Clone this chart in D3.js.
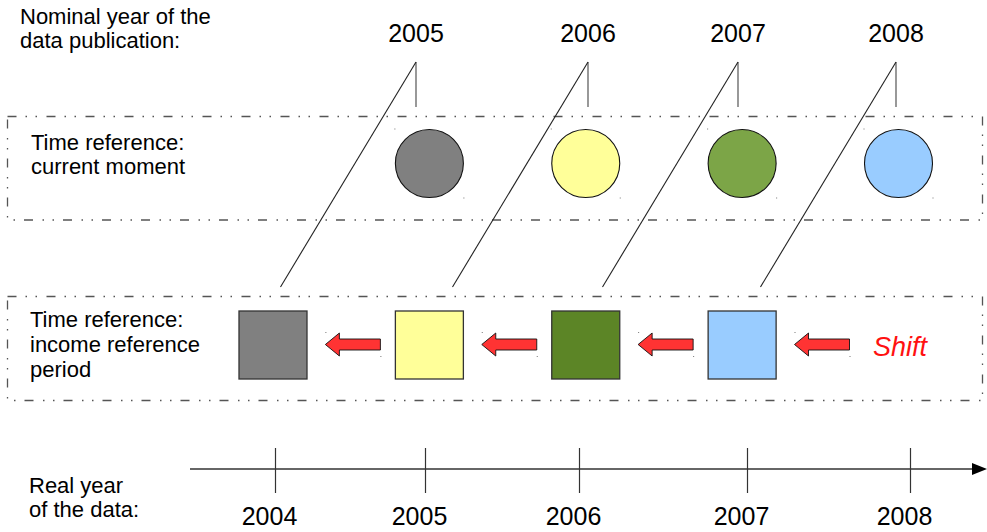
<!DOCTYPE html>
<html><head><meta charset="utf-8">
<script src="https://cdn.jsdelivr.net/npm/d3@7"></script>
<style>body{margin:0;background:#fff;overflow:hidden} text{font-family:"Liberation Sans",Arial,sans-serif}</style>
</head><body><svg id="c" width="987" height="532"></svg>
<script>
// ---- data ----
const nominalYears = [2005, 2006, 2007, 2008];   // nominal year of publication (circles)
const incomeYears  = [2004, 2005, 2006, 2007];   // income reference period (squares)
const realYears    = [2004, 2005, 2006, 2007, 2008];
const shiftLabel   = "Shift";
const topLabel     = ["Nominal year of the", "data publication:"];
const row1Label    = ["Time reference:", "current moment"];
const row2Label    = ["Time reference:", "income reference", "period"];
const bottomLabel  = ["Real year", "of the data:"];

// ---- styles ----
const circleColor = d3.scaleOrdinal().domain(nominalYears).range(["#808080", "#ffff99", "#7ca547", "#99ccff"]);
const squareColor = d3.scaleOrdinal().domain(incomeYears).range(["#808080", "#ffff99", "#5c8526", "#99ccff"]);
const FONT = 22, YFONT = 25;

const svg = d3.select("#c");

// ---- scales ----
const xShape = d3.scaleLinear().domain([2004, 2008]).range([273, 898.5]);
const xPub = d3.scaleLinear().domain(nominalYears).range([416, 588, 738, 896]);
const xReal = d3.scaleLinear().domain(realYears).range([275, 425, 579, 747, 910]);

function multiline(lines, x, y0, dy, size) {
  const t = svg.append("text").attr("font-size", size).attr("fill", "#000");
  lines.forEach((l, i) => t.append("tspan").attr("x", x).attr("y", y0 + i * dy).text(l));
}

// ---- dashed boxes ----
const dash = "9,9,1.5,8.5,1.5,9.5";
[[116.5, 220], [296.5, 400.5]].forEach(([y0, y1]) => {
  svg.append("rect").attr("x", 7.5).attr("y", y0).attr("width", 975).attr("height", y1 - y0)
    .attr("fill", "none").attr("stroke", "#555").attr("stroke-width", 1.3)
    .attr("stroke-dasharray", dash);
});

// ---- labels ----
multiline(topLabel, 20, 24, 24, FONT);
multiline(row1Label, 31, 150, 24, FONT);
multiline(row2Label, 30, 327, 25, FONT);
multiline(bottomLabel, 29, 493, 24, FONT);

// ---- publication years + connectors ----
svg.append("g").selectAll("text").data(nominalYears).join("text")
  .attr("x", d => xPub(d)).attr("y", 42).attr("text-anchor", "middle")
  .attr("font-size", YFONT).attr("fill", "#000").text(d => d);

const conn = svg.append("g").attr("stroke", "#222").attr("stroke-width", 1.1).attr("fill", "none");
conn.selectAll("line.v").data(nominalYears).join("line").attr("class", "v")
  .attr("x1", d => xPub(d)).attr("x2", d => xPub(d)).attr("y1", 62).attr("y2", 107)
  .attr("stroke", "#444");
conn.selectAll("line.d").data(nominalYears).join("line").attr("class", "d")
  .attr("x1", d => xPub(d)).attr("y1", 62).attr("x2", d => xPub(d) - 135.5).attr("y2", 287);

// ---- circles (current moment) ----
const R = 34, cyC = 163.5;
svg.append("g").selectAll("circle").data(nominalYears).join("circle")
  .attr("cx", d => xShape(d)).attr("cy", cyC).attr("r", R)
  .attr("fill", d => circleColor(d)).attr("stroke", "#111").attr("stroke-width", 1.1);
// bbox corner marks
const marks = svg.append("g").attr("fill", "#777");
nominalYears.forEach(d => {
  marks.append("rect").attr("x", xShape(d) - R - 1).attr("y", cyC - R - 1).attr("width", 1).attr("height", 1);
  marks.append("rect").attr("x", xShape(d) + R).attr("y", cyC + R).attr("width", 1).attr("height", 1);
});

// ---- squares (income reference period) ----
const S = 68, cyS = 345;
svg.append("g").selectAll("rect").data(incomeYears).join("rect")
  .attr("x", d => xShape(d) - S / 2).attr("y", cyS - S / 2).attr("width", S).attr("height", S)
  .attr("fill", d => squareColor(d)).attr("stroke", "#333").attr("stroke-width", 1.3);

// ---- shift arrows ----
const AL = 55, HL = 14, HH = 11.5, SH = 5.5, cyA = 344.5;
function arrowPath(x0) {
  const x1 = x0 + AL;
  return `M${x0},${cyA} L${x0 + HL},${cyA - HH} L${x0 + HL},${cyA - SH} L${x1},${cyA - SH} L${x1},${cyA + SH} L${x0 + HL},${cyA + SH} L${x0 + HL},${cyA + HH} Z`;
}
const arrowX = d => xShape(d) - 104;
svg.append("g").selectAll("path").data(nominalYears).join("path")
  .attr("d", d => arrowPath(arrowX(d)))
  .attr("fill", "#ff3333").attr("stroke", "#111").attr("stroke-width", 0.9).attr("stroke-linejoin", "miter");
nominalYears.forEach(d => {
  const x0 = arrowX(d);
  marks.append("rect").attr("x", x0).attr("y", cyA - HH - 1).attr("width", 1).attr("height", 1);
  marks.append("rect").attr("x", x0 + AL).attr("y", cyA + HH).attr("width", 1).attr("height", 1);
});

svg.append("text").attr("x", 873).attr("y", 356).attr("font-size", 27).attr("font-style", "italic")
  .attr("fill", "#ff1111").text(shiftLabel);

// ---- real-year axis ----
const axisY = 469;
svg.append("line").attr("x1", 190).attr("x2", 973).attr("y1", axisY).attr("y2", axisY)
  .attr("stroke", "#333").attr("stroke-width", 1.3);
svg.append("path").attr("d", `M972,${axisY - 6} L987,${axisY} L972,${axisY + 6} Z`).attr("fill", "#000");

const axis = d3.axisBottom(xReal).tickValues(realYears).tickFormat(d3.format("d"))
  .tickSize(45).tickPadding(14);
const ag = svg.append("g").attr("transform", `translate(0,${axisY - 21})`).call(axis);
ag.select(".domain").remove();
ag.selectAll(".tick line").attr("stroke", "#333").attr("stroke-width", 1.2);
ag.selectAll(".tick text").attr("font-size", YFONT).attr("fill", "#000")
  .attr("font-family", "'Liberation Sans', Arial, sans-serif").attr("dx", -6);
</script></body></html>
